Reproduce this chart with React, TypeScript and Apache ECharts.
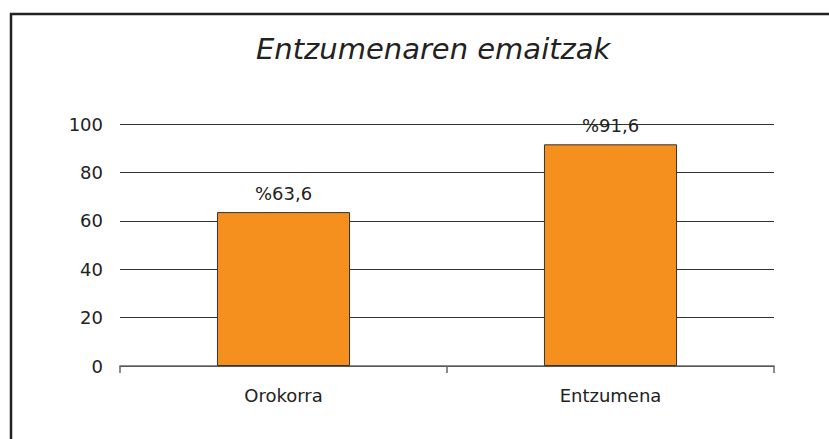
import React, { useEffect, useRef } from "react";
import * as echarts from "echarts";

const titleText = "Entzumenaren emaitzak";
const categories = ["Orokorra", "Entzumena"];
const values = [63.6, 91.6];
const valueLabels = ["%63,6", "%91,6"];
const yMin = 0;
const yMax = 100;
const yInterval = 20;

export default function App() {
  const ref = useRef<HTMLDivElement>(null);
  useEffect(() => {
    document.body.style.margin = "0";
    const chart = echarts.init(ref.current!, null, { renderer: "svg" });
    chart.setOption({
      animation: false,
      backgroundColor: "#ffffff",
      textStyle: { fontFamily: "DejaVu Sans" },
      title: {
        text: titleText,
        left: 251,
        top: 29,
        textStyle: {
          fontSize: 29,
          fontStyle: "italic",
          fontWeight: "normal",
          color: "#222222",
          fontFamily: "DejaVu Sans",
        },
      },
      graphic: [
        {
          type: "rect",
          shape: { x: 11, y: 14, width: 900, height: 500 },
          style: { fill: "none", stroke: "#222222", lineWidth: 2.5 },
          silent: true,
        },
      ],
      grid: { left: 120, right: 55, top: 124, bottom: 73, containLabel: false },
      xAxis: {
        type: "category",
        data: categories,
        boundaryGap: true,
        axisLine: { show: true, lineStyle: { color: "#666666", width: 1.5 } },
        axisTick: { show: true, length: 7, alignWithLabel: false, lineStyle: { color: "#666666", width: 1.5 } },
        axisLabel: { fontSize: 18, color: "#222222", margin: 20, fontFamily: "DejaVu Sans" },
      },
      yAxis: {
        type: "value",
        min: yMin,
        max: yMax,
        interval: yInterval,
        axisLine: { show: false },
        axisTick: { show: false },
        axisLabel: { fontSize: 18, color: "#222222", margin: 17, fontFamily: "DejaVu Sans" },
        splitLine: { show: true, lineStyle: { color: "#333333", width: 1 } },
      },
      series: [
        {
          type: "bar",
          data: values.map((v, i) => ({ value: v, label: { formatter: valueLabels[i] } })),
          barWidth: "40.7%",
          itemStyle: { color: "#F5901F", borderColor: "#333333", borderWidth: 1 },
          label: {
            show: true,
            position: "top",
            distance: 10,
            fontSize: 18,
            color: "#222222",
            fontFamily: "DejaVu Sans",
          },
        },
      ],
    });
    return () => chart.dispose();
  }, []);
  return <div ref={ref} style={{ width: 829, height: 439 }} />;
}
